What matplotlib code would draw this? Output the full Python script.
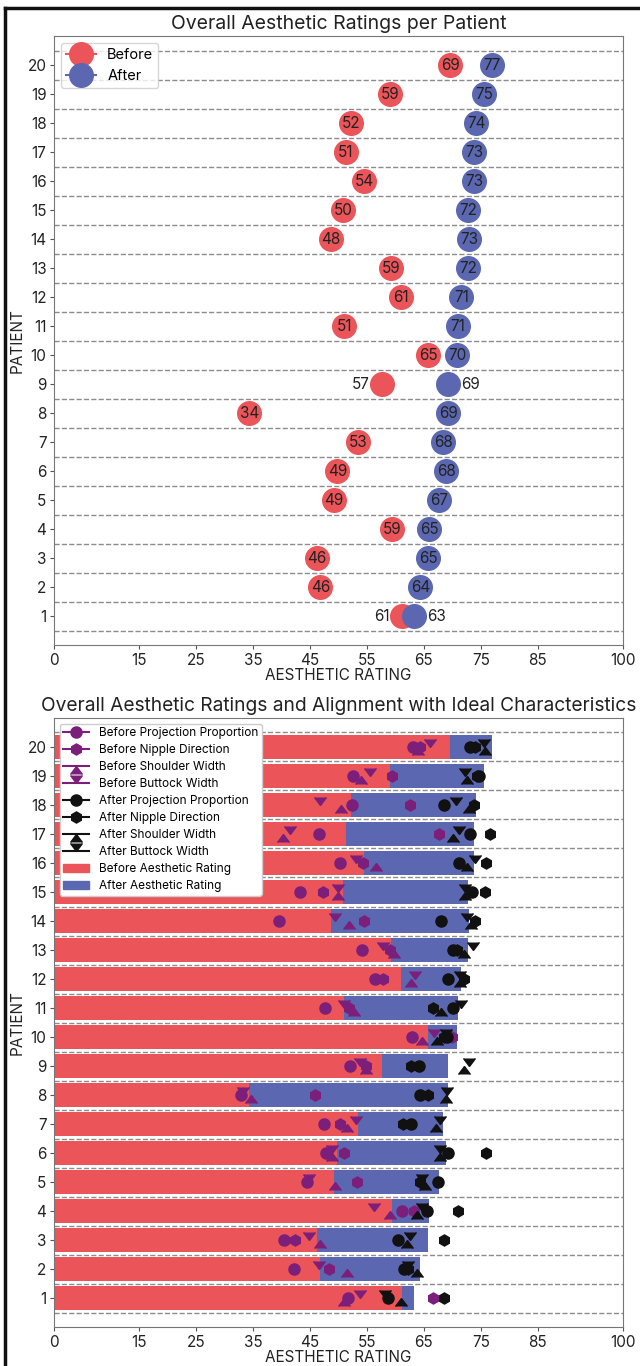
import matplotlib
matplotlib.use("Agg")
import matplotlib.pyplot as plt
from matplotlib.lines import Line2D
from matplotlib.patches import Patch

plt.rcParams["font.family"] = ["Inter", "DejaVu Sans"]

patients = list(range(1, 21))

# overall aesthetic rating, patient 1..20
before = [61.2, 46.8, 46.2, 59.4, 49.2, 49.8, 53.5, 34.3, 57.7, 65.8,
          51.0, 61.0, 59.3, 48.7, 50.8, 54.5, 51.3, 52.2, 59.0, 69.6]
after = [63.3, 64.4, 65.8, 65.9, 67.7, 68.9, 68.4, 69.3, 69.3, 70.9,
         71.0, 71.6, 72.8, 73.0, 72.8, 73.9, 73.9, 74.2, 75.6, 77.0]

# alignment with ideal characteristics, patient 1..20
before_pp = [51.7, 42.1, 40.4, 61.1, 44.5, 47.8, 47.5, 32.8, 52.0, 63.0,
             47.7, 56.4, 54.2, 39.6, 43.3, 50.2, 46.5, 52.3, 52.5, 63.1]
before_nd = [66.6, 48.4, 42.3, 63.3, 53.3, 51.0, 50.3, 45.9, 54.8, 69.9,
             51.9, 57.8, 59.0, 54.4, 47.2, 54.3, 67.6, 62.6, 59.4, 64.4]
before_sw = [51.0, 51.5, 46.8, 59.1, 49.3, 48.8, 51.5, 34.6, 54.9, 64.7,
             52.7, 62.7, 59.8, 51.9, 49.9, 56.6, 40.3, 50.4, 54.0, 64.0]
before_bw = [53.8, 46.5, 44.8, 56.3, 44.9, 48.8, 53.0, 33.2, 53.8, 66.7,
             51.0, 63.5, 57.8, 49.4, 49.9, 53.1, 41.5, 46.8, 55.6, 66.1]
after_pp = [58.7, 61.5, 60.5, 65.5, 67.5, 69.3, 62.8, 64.4, 64.2, 69.0,
            70.1, 69.2, 70.2, 68.0, 73.4, 71.1, 73.2, 68.6, 74.7, 73.1]
after_nd = [68.5, 62.3, 68.6, 71.0, 64.4, 75.9, 61.4, 65.7, 62.7, 68.5,
            66.6, 72.0, 70.9, 74.0, 75.8, 75.9, 76.7, 73.8, 74.4, 74.0]
after_sw = [61.0, 63.8, 62.0, 63.8, 65.2, 67.8, 67.2, 68.9, 72.1, 67.3,
            68.0, 71.4, 72.0, 73.3, 72.3, 72.6, 70.2, 73.0, 72.6, 75.8]
after_bw = [58.1, 62.3, 62.6, 64.6, 64.6, 67.8, 67.8, 69.0, 73.0, 68.9,
            71.6, 71.4, 73.7, 72.6, 72.3, 74.0, 71.1, 70.7, 72.3, 75.5]

xticks = [0, 15, 25, 35, 45, 55, 65, 75, 85, 100]
outside = [1, 9]  # labels drawn beside the dots

RED = "#EB5459"
BLUE = "#5B68B1"
PURPLE = "#7B1F7A"
BLACK = "#111111"
GRID = "#8c8c8c"

fig = plt.figure(figsize=(6.4, 13.66), dpi=100)
ax1 = fig.add_axes([0.0844, 0.5278, 0.889, 0.4458])
ax2 = fig.add_axes([0.0844, 0.0285, 0.889, 0.4459])

def style(ax):
    ax.set_xlim(0, 100)
    ax.set_ylim(0, 21)
    ax.set_xticks(xticks)
    ax.set_yticks(patients)
    ax.tick_params(labelsize=11, length=3, color="#555", labelcolor="#222", pad=2.5)
    for s in ax.spines.values():
        s.set_color("#777")
    for y in range(0, 21):
        ax.axhline(y + 0.5, color=GRID, ls="--", lw=1.0, zorder=0)
    ax.set_xlabel("AESTHETIC RATING", fontsize=11, color="#222", labelpad=0)
    ax.set_ylabel("PATIENT", fontsize=11, color="#222", labelpad=2)

# ---- top: before/after dots ----
style(ax1)
ax1.plot(before, patients, "o", color=RED, ms=17, zorder=3)
ax1.plot(after, patients, "o", color=BLUE, ms=17, zorder=4)
for p, b, a in zip(patients, before, after):
    if p in outside:
        ax1.text(b - 2.2, p, f"{int(b)}", ha="right", va="center", fontsize=11, color="#222")
        ax1.text(a + 2.2, p, f"{int(a)}", ha="left", va="center", fontsize=11, color="#222")
    else:
        ax1.text(b, p, f"{int(b)}", ha="center", va="center", fontsize=11, color="#222", zorder=5)
        ax1.text(a, p, f"{int(a)}", ha="center", va="center", fontsize=11, color="#222", zorder=5)
ax1.set_title("Overall Aesthetic Ratings per Patient", fontsize=14, color="#222", pad=5)
ax1.legend(handles=[Line2D([], [], color=RED, marker="o", ms=17, label="Before"),
                    Line2D([], [], color=BLUE, marker="o", ms=17, label="After")],
           loc="upper left", fontsize=10.5, handlelength=2, labelspacing=0.45,
           borderpad=0.35, edgecolor="#ccc")

# ---- bottom: bars + characteristic markers ----
style(ax2)
ax2.barh(patients, before, height=0.8, color=RED, zorder=2)
ax2.barh(patients, [a - b for a, b in zip(after, before)], left=before,
         height=0.8, color=BLUE, zorder=2)
ms = 8
series = [
    (before_pp, PURPLE, "o", "Before Projection Proportion"),
    (before_nd, PURPLE, "h", "Before Nipple Direction"),
    (before_sw, PURPLE, 6, "Before Shoulder Width"),
    (before_bw, PURPLE, 7, "Before Buttock Width"),
    (after_pp, BLACK, "o", "After Projection Proportion"),
    (after_nd, BLACK, "h", "After Nipple Direction"),
    (after_sw, BLACK, 6, "After Shoulder Width"),
    (after_bw, BLACK, 7, "After Buttock Width"),
]
handles = []
for vals, c, m, lab in series:
    ax2.plot(vals, patients, ls="none", marker=m, color=c, ms=ms, zorder=3)
    handles.append(Line2D([], [], color=c, marker=m, ms=ms, label=lab))
handles.append(Patch(color=RED, label="Before Aesthetic Rating"))
handles.append(Patch(color=BLUE, label="After Aesthetic Rating"))
ax2.set_title("Overall Aesthetic Ratings and Alignment with Ideal Characteristics",
              fontsize=13.8, color="#222", pad=5)
ax2.legend(handles=handles, loc="upper left", fontsize=8.5, handlelength=2.2,
           labelspacing=0.42, borderpad=0.3, edgecolor="#ccc", framealpha=1)

# cropped outer frame (left and top edge)
fig.add_artist(Line2D([0.008, 0.008], [0, 0.994], color="#111", lw=2.5))
fig.add_artist(Line2D([0.008, 1.0], [0.994, 0.994], color="#111", lw=2.5))

fig.savefig("out.png", dpi=100)
